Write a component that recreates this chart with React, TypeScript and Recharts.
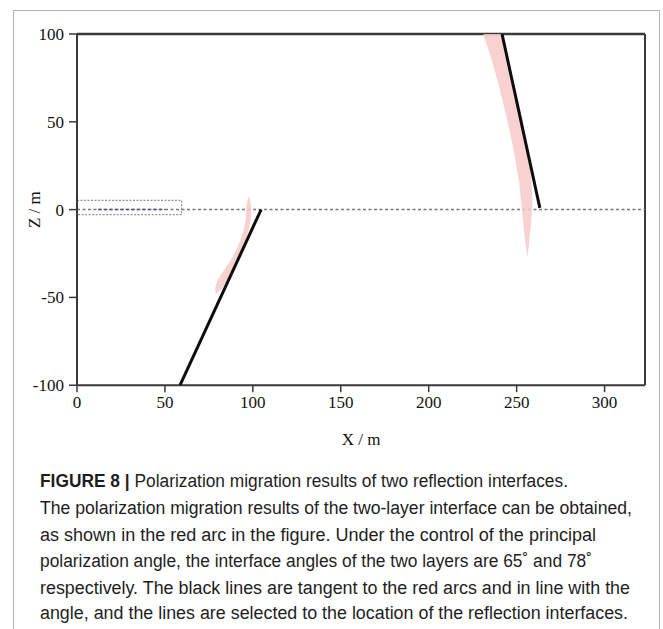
import React from 'react';
import {
  ComposedChart,
  XAxis,
  YAxis,
  Scatter,
  ReferenceLine,
  ReferenceArea,
} from 'recharts';

// Axis ticks (metres)
const xTicks = [0, 50, 100, 150, 200, 250, 300];
const zTicks = [-100, -50, 0, 50, 100];
const xDomain = [0, 323];
const zDomain = [-100, 100];

// Interface lines picked from the principal polarization angle (65° and 78°)
const interfaceLine1 = [
  { x: 58.6, z: -100 },
  { x: 104.7, z: 0 },
];
const interfaceLine2 = [
  { x: 241.7, z: 100 },
  { x: 263.2, z: 1 },
];

// Migrated energy of the first reflector (outline of the red arc)
const arc1 = [
  { x: 97.5, z: 7.5 },
  { x: 96.3, z: 2 },
  { x: 96.0, z: -5 },
  { x: 94.5, z: -13 },
  { x: 92.0, z: -20 },
  { x: 88.5, z: -27 },
  { x: 84.0, z: -34 },
  { x: 80.0, z: -40 },
  { x: 78.5, z: -45 },
  { x: 79.0, z: -48 },
  { x: 81.5, z: -46 },
  { x: 85.5, z: -41 },
  { x: 89.5, z: -35 },
  { x: 92.5, z: -28 },
  { x: 95.0, z: -20 },
  { x: 97.5, z: -12 },
  { x: 99.0, z: -4 },
  { x: 99.0, z: 2 },
  { x: 98.3, z: 6 },
];

// Migrated energy of the second reflector (outline of the red arc)
const arc2 = [
  { x: 231.0, z: 100 },
  { x: 235.0, z: 88 },
  { x: 239.0, z: 74 },
  { x: 242.5, z: 60 },
  { x: 246.0, z: 45 },
  { x: 249.0, z: 30 },
  { x: 251.5, z: 15 },
  { x: 253.0, z: 0 },
  { x: 254.5, z: -15 },
  { x: 256.2, z: -27.5 },
  { x: 257.0, z: -20 },
  { x: 258.5, z: -5 },
  { x: 259.0, z: 5 },
  { x: 258.5, z: 15 },
  { x: 257.0, z: 30 },
  { x: 254.5, z: 45 },
  { x: 251.5, z: 60 },
  { x: 248.0, z: 74 },
  { x: 245.0, z: 88 },
  { x: 241.5, z: 100 },
];

// Source window near the surface
const sourceBox = { x1: 0, x2: 59.5, z1: -2.9, z2: 5.3 };

const captionLines = [
  { bold: 'FIGURE 8 | ', text: 'Polarization migration results of two reflection interfaces.', width: 528 },
  { bold: '', text: 'The polarization migration results of the two-layer interface can be obtained,', width: 592 },
  { bold: '', text: 'as shown in the red arc in the figure. Under the control of the principal', width: 556 },
  { bold: '', text: 'polarization angle, the interface angles of the two layers are 65\u02DA and 78\u02DA', width: 552 },
  { bold: '', text: 'respectively. The black lines are tangent to the red arcs and in line with the', width: 590 },
  { bold: '', text: 'angle, and the lines are selected to the location of the reflection interfaces.', width: 588 },
];
const captionBaselines = [487, 514, 541, 567, 594, 619];

const SERIF = '"Liberation Serif", "Times New Roman", serif';
const SANS = '"Liberation Sans", Arial, sans-serif';
const AXIS = '#3a3a3a';

const noMarker = () => <g />;

const YLabel = (props: any) => {
  const vb = props.viewBox;
  const cx = vb.x + 18;
  const cy = vb.y + vb.height / 2;
  return (
    <text
      x={cx}
      y={cy}
      transform={`rotate(-90 ${cx} ${cy})`}
      textAnchor="middle"
      dominantBaseline="central"
      fontFamily={SERIF}
      fontSize={17}
      fill="#111"
    >
      Z / m
    </text>
  );
};

const XLabel = (props: any) => {
  const vb = props.viewBox;
  return (
    <text
      x={vb.x + vb.width / 2}
      y={vb.y + 60}
      textAnchor="middle"
      fontFamily={SERIF}
      fontSize={17}
      fill="#111"
    >
      X / m
    </text>
  );
};

export default function App() {
  return (
    <div
      style={{
        position: 'fixed',
        left: 0,
        top: 0,
        width: 663,
        height: 629,
        overflow: 'hidden',
        background: '#fff',
      }}
    >
      <div
        style={{
          position: 'absolute',
          left: 13,
          top: 10,
          width: 647,
          height: 700,
          border: '1.5px solid #b4b4b4',
          boxSizing: 'border-box',
        }}
      />
      <div style={{ position: 'absolute', left: 0, top: 0 }}>
        <ComposedChart
          width={663}
          height={470}
          margin={{ top: 34, right: 18, bottom: 24.8, left: 17 }}
        >
          <XAxis
            type="number"
            dataKey="x"
            domain={xDomain}
            ticks={xTicks}
            allowDataOverflow
            height={60}
            tickSize={7}
            tickMargin={4}
            axisLine={{ stroke: AXIS, strokeWidth: 2 }}
            tickLine={{ stroke: AXIS, strokeWidth: 1.5 }}
            tick={{ fontFamily: SERIF, fontSize: 17, fill: '#111' }}
            label={<XLabel />}
          />
          <YAxis
            type="number"
            dataKey="z"
            domain={zDomain}
            ticks={zTicks}
            allowDataOverflow
            width={60}
            tickSize={8}
            tickMargin={5}
            axisLine={{ stroke: AXIS, strokeWidth: 2 }}
            tickLine={{ stroke: AXIS, strokeWidth: 1.5 }}
            tick={{ fontFamily: SERIF, fontSize: 17, fill: '#111' }}
            label={<YLabel />}
          />
          <ReferenceLine y={100} stroke={AXIS} strokeWidth={2.5} />
          <ReferenceLine x={xDomain[1]} stroke={AXIS} strokeWidth={2} />
          <ReferenceArea
            x1={sourceBox.x1}
            x2={sourceBox.x2}
            y1={sourceBox.z1}
            y2={sourceBox.z2}
            fill="none"
            fillOpacity={0}
            stroke="#777"
            strokeWidth={1}
            strokeDasharray="2 1.5"
          />
          <ReferenceLine y={0} stroke="#777" strokeWidth={1.5} strokeDasharray="3 2.5" />
          <ReferenceLine
            segment={[
              { x: 12, y: 0 },
              { x: 50, y: 0 },
            ]}
            stroke="#4f5683"
            strokeWidth={1.5}
            strokeDasharray="3 2.5"
          />
          <Scatter
            data={arc1}
            isAnimationActive={false}
            shape={noMarker}
            line={{ fill: '#f7c9c9', fillOpacity: 0.85, stroke: 'none' }}
            lineJointType="linear"
          />
          <Scatter
            data={arc2}
            isAnimationActive={false}
            shape={noMarker}
            line={{ fill: '#f7c9c9', fillOpacity: 0.85, stroke: 'none' }}
            lineJointType="linear"
          />
          <Scatter
            data={interfaceLine1}
            isAnimationActive={false}
            shape={noMarker}
            line={{ stroke: '#0d0d0d', strokeWidth: 3, fill: 'none' }}
            lineJointType="linear"
          />
          <Scatter
            data={interfaceLine2}
            isAnimationActive={false}
            shape={noMarker}
            line={{ stroke: '#0d0d0d', strokeWidth: 3, fill: 'none' }}
            lineJointType="linear"
          />
        </ComposedChart>
      </div>
      <svg
        width={663}
        height={629}
        style={{ position: 'absolute', left: 0, top: 0, pointerEvents: 'none' }}
      >
        {captionLines.map((line, i) => (
          <text
            key={i}
            x={40}
            y={captionBaselines[i]}
            textLength={line.width}
            lengthAdjust="spacingAndGlyphs"
            fontFamily={SANS}
            fontSize={18}
            fill="#1e1e1e"
          >
            {line.bold ? <tspan fontWeight="bold">{line.bold}</tspan> : null}
            {line.text}
          </text>
        ))}
      </svg>
    </div>
  );
}
